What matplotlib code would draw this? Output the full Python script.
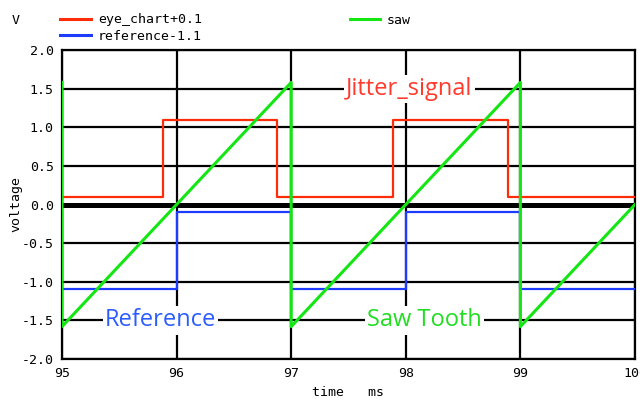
import matplotlib.pyplot as plt
import numpy as np

# step signals: transition times (ms) and logic levels
t_eye = [95.0, 95.88, 96.88, 97.89, 98.89, 100.0]
eye_chart = [0, 1, 0, 1, 0, 0]
t_ref = [95.0, 95.0, 96.0, 97.0, 98.0, 99.0, 100.0]
reference = [1, 0, 1, 0, 1, 0, 0]

# saw tooth corner points
t_saw = [95.0, 95.0, 97.0, 97.0, 99.0, 99.0, 100.0]
saw = [1.58, -1.58, 1.58, -1.58, 1.58, -1.58, 0.0]

x_ticks = [95, 96, 97, 98, 99, 100]
y_ticks = [-2.0, -1.5, -1.0, -0.5, 0.0, 0.5, 1.0, 1.5, 2.0]

red = "#ff2c0a"
blue = "#1e3cff"
green = "#14e614"
mono = "DejaVu Sans Mono"

fig = plt.figure(figsize=(6.4, 4.03), dpi=100)
ax = fig.add_axes([62 / 640, 1 - 359 / 403, 573 / 640, 309 / 403])

ax.plot(t_eye, np.array(eye_chart) + 0.1, drawstyle="steps-post",
        color=red, lw=1.6, zorder=4)
ax.plot(t_ref, np.array(reference) - 1.1, drawstyle="steps-post",
        color=blue, lw=1.6, zorder=4)
ax.plot(t_saw, saw, color=green, lw=2.2, zorder=5)

ax.set_xlim(95, 100)
ax.set_ylim(-2.0, 2.0)
ax.set_xticks(x_ticks)
ax.set_yticks(y_ticks)
ax.set_xticklabels([str(v) for v in x_ticks], family=mono, fontsize=9.5)
ax.set_yticklabels([f"{v:.1f}" for v in y_ticks], family=mono, fontsize=9.5)
ax.tick_params(length=0, pad=6)

ax.grid(True, color="black", lw=1.6, zorder=1)
ax.set_axisbelow(True)
ax.axhline(0, color="black", lw=3.6, zorder=2)
for s in ax.spines.values():
    s.set_linewidth(1.6)

# in-plot annotations sitting on the grid lines
box = dict(facecolor="white", edgecolor="none", pad=1.5)
ax.text(98.03, 1.5, "Jitter_signal", color="#ff3b2e", fontsize=17,
        family="Open Sans", ha="center", va="center", bbox=box, zorder=3)
ax.text(95.86, -1.5, "Reference", color="#2b5cff", fontsize=17,
        family="Open Sans", ha="center", va="center", bbox=box, zorder=3)
ax.text(98.16, -1.5, "Saw Tooth", color="#22dd22", fontsize=17,
        family="Open Sans", ha="center", va="center", bbox=box, zorder=3)

fig.text(16 / 640, 1 - 204 / 403, "voltage", family=mono, fontsize=9.5,
         rotation=90, ha="center", va="center")
ax.set_xlabel("time   ms", family=mono, fontsize=9.5, labelpad=4)

# header legend
fig.text(12 / 640, 1 - 20 / 403, "V", family=mono, fontsize=9.5, va="center")
fig.add_artist(plt.Line2D([60 / 640, 91 / 640], [1 - 19 / 403] * 2,
                          color=red, lw=2.2))
fig.add_artist(plt.Line2D([60 / 640, 91 / 640], [1 - 35 / 403] * 2,
                          color=blue, lw=2.2))
fig.add_artist(plt.Line2D([350 / 640, 380 / 640], [1 - 19 / 403] * 2,
                          color=green, lw=2.2))
fig.text(98 / 640, 1 - 20 / 403, "eye_chart+0.1", family=mono, fontsize=9.5,
         va="center")
fig.text(98 / 640, 1 - 36 / 403, "reference-1.1", family=mono, fontsize=9.5,
         va="center")
fig.text(387 / 640, 1 - 20 / 403, "saw", family=mono, fontsize=9.5,
         va="center")

fig.savefig("out.png", dpi=100)
